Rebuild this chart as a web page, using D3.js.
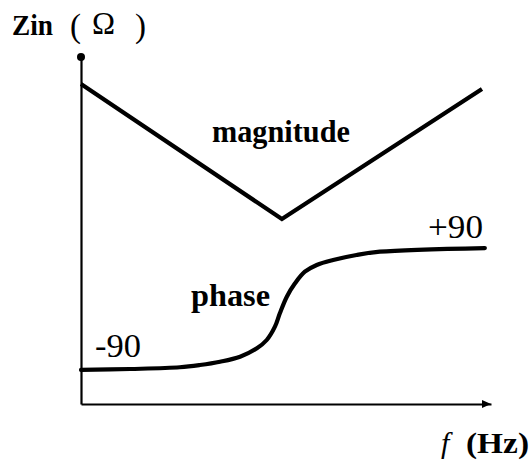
<!DOCTYPE html>
<html>
<head>
<meta charset="utf-8">
<script src="https://cdn.jsdelivr.net/npm/d3@7"></script>
<style>
  html, body { margin: 0; padding: 0; background: #fff; }
  svg { display: block; }
</style>
</head>
<body>
<script>
// Frequency positions (relative log-frequency, 0..100)
const magFreq   = [0, 49, 97.8];
// |Zin| in relative units along the vertical axis (0..100)
const magValues = [92.2, 53.3, 90.8];

// Phase of Zin in degrees, sampled along the same frequency axis
const phaseFreq   = [0, 12, 24.1, 29.0, 33.9, 38.8, 42.9, 45.3, 47.3, 48.5, 50.2, 52.2, 54.6, 57.5, 61.5, 67.2, 72.9, 98.5];
const phaseValues = [-88.5, -87.1, -84.6, -81.3, -76.5, -69.2, -57.0, -45.0, -25.7, -6.2, 17.9, 37.3, 54.1, 63.9, 71.1, 78.4, 83.2, 88.5];

const phaseTicks = ["-90", "+90"];

const SERIF = '"Liberation Serif"';

const W = 532, H = 462;
const svg = d3.select("body").append("svg").attr("width", W).attr("height", H);

const x = d3.scaleLinear().domain([0, 100]).range([81, 491]);
const y = d3.scaleLinear().domain([0, 100]).range([404, 57]);
const yPhase = d3.scaleLinear().domain([-90, 90]).range([371, 247]);

// Axes: bare domain lines, no ticks
svg.append("g").attr("transform", `translate(0,${y(0)})`)
  .call(d3.axisBottom(x).ticks(0).tickSizeOuter(0));
svg.append("g").attr("transform", `translate(${x(0)},0)`)
  .call(d3.axisLeft(y).ticks(0).tickSizeOuter(0));
svg.selectAll(".domain").attr("stroke", "#000").attr("stroke-width", 2.2);

// Arrow head on the frequency axis, dot at the top of the impedance axis
const xEnd = x(100);
svg.append("path")
  .attr("d", `M${xEnd},${y(0)} L${xEnd - 9},${y(0) - 4} L${xEnd - 9},${y(0) + 4} Z`)
  .attr("fill", "#000");
svg.append("circle").attr("cx", x(0)).attr("cy", y(100)).attr("r", 4).attr("fill", "#000");

// Magnitude curve
const magLine = d3.line().x((d, i) => x(magFreq[i])).y(d => y(d));
svg.append("path").datum(magValues)
  .attr("d", magLine).attr("fill", "none").attr("stroke", "#000")
  .attr("stroke-width", 4.2).attr("stroke-linejoin", "miter");

// Phase curve
const phaseLine = d3.line().curve(d3.curveCatmullRom.alpha(0.5))
  .x((d, i) => x(phaseFreq[i])).y(d => yPhase(d));
svg.append("path").datum(phaseValues)
  .attr("d", phaseLine).attr("fill", "none").attr("stroke", "#000")
  .attr("stroke-width", 4.2).attr("stroke-linecap", "round");

// Labels
function label(px, py, size, txt, opts = {}) {
  const t = svg.append("text").attr("x", px).attr("y", py)
    .style("font-family", SERIF)
    .attr("font-size", size)
    .attr("font-weight", opts.weight || "normal")
    .attr("font-style", opts.style || "normal")
    .attr("fill", "#000").text(txt);
  if (opts.len) t.attr("textLength", opts.len).attr("lengthAdjust", "spacingAndGlyphs");
  return t;
}

label(12, 35, 30, "Zin", { weight: "bold", len: 41 });
label(70, 37, 33, "(");
label(92, 34, 31, "Ω");
label(135, 37, 33, ")");

label(212, 142, 31, "magnitude", { weight: "bold", len: 138 });
label(191, 306, 32, "phase", { weight: "bold", len: 79 });
label(95, 357, 34, phaseTicks[0], { len: 46 });
label(428, 238, 34, phaseTicks[1], { len: 55 });

label(441, 453, 30, "f", { style: "italic" });
label(466, 453, 29, "(Hz)", { weight: "bold", len: 63 });
</script>
</body>
</html>
